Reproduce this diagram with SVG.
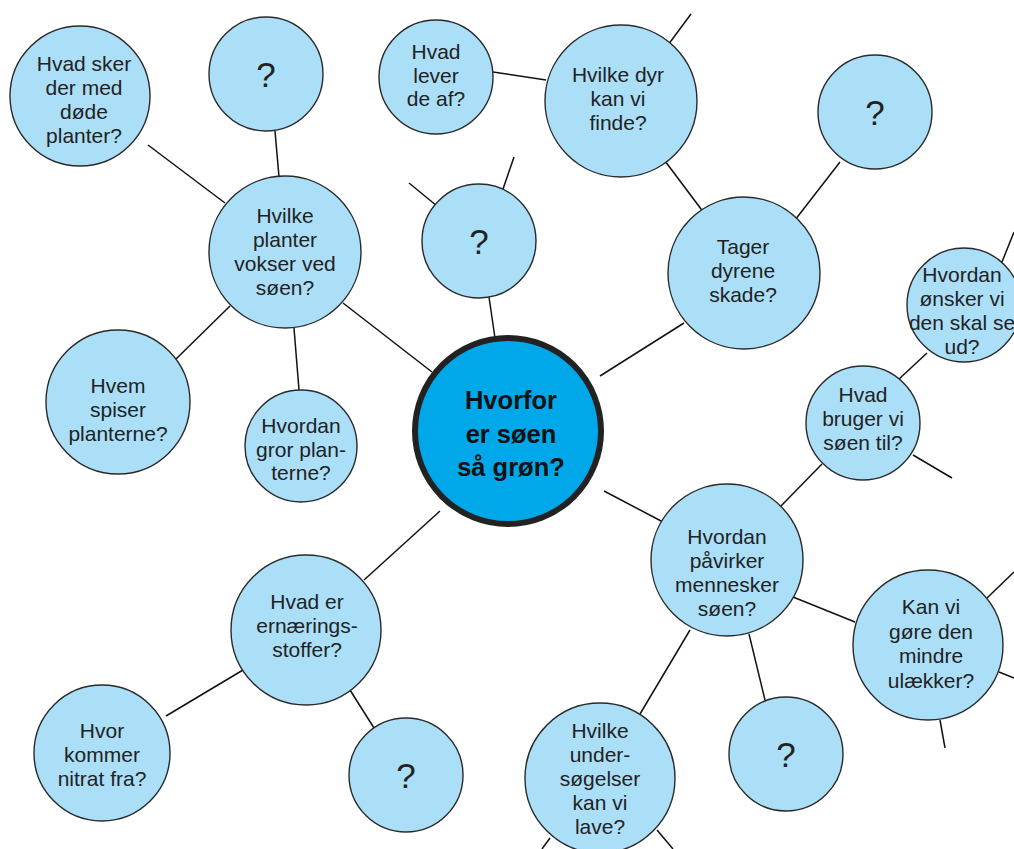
<svg xmlns="http://www.w3.org/2000/svg" width="1014" height="849" viewBox="0 0 1014 849">
<style>
.n{fill:#abdff8;stroke:#2a2a2a;stroke-width:1.4}
.c{fill:#00a8ea;stroke:#222;stroke-width:6}
.t{font-family:"Liberation Sans",Arial,sans-serif;font-size:21px;fill:#222;text-anchor:middle}
.q{font-family:"Liberation Sans",Arial,sans-serif;font-size:35px;fill:#222;text-anchor:middle}
.b{font-family:"Liberation Sans",Arial,sans-serif;font-size:25.5px;font-weight:bold;fill:#111;text-anchor:middle}
.l{stroke:#111;stroke-width:1.5;fill:none}
</style>
<rect width="1014" height="849" fill="#fff"/>
<g id="connectors" class="l">
<line x1="432" y1="372" x2="343" y2="303"/>
<line x1="495" y1="338" x2="489" y2="297"/>
<line x1="600" y1="376" x2="684" y2="323"/>
<line x1="604" y1="491" x2="663" y2="522"/>
<line x1="440" y1="511" x2="364" y2="580"/>
<line x1="148" y1="145" x2="225" y2="203"/>
<line x1="275" y1="131" x2="279" y2="177"/>
<line x1="175" y1="360" x2="230" y2="306"/>
<line x1="294" y1="328" x2="299" y2="390"/>
<line x1="493" y1="72" x2="546" y2="80"/>
<line x1="668" y1="45" x2="691" y2="14"/>
<line x1="665" y1="161" x2="704" y2="213"/>
<line x1="795" y1="220" x2="840" y2="162"/>
<line x1="409" y1="183" x2="437" y2="206"/>
<line x1="514" y1="157" x2="502" y2="192"/>
<line x1="1002" y1="262" x2="1014" y2="232"/>
<line x1="898" y1="380" x2="927" y2="353"/>
<line x1="913" y1="455" x2="952" y2="478"/>
<line x1="779" y1="508" x2="822" y2="464"/>
<line x1="793" y1="597" x2="855" y2="622"/>
<line x1="749" y1="634" x2="765" y2="700"/>
<line x1="690" y1="630" x2="640" y2="714"/>
<line x1="987" y1="598" x2="1014" y2="572"/>
<line x1="999" y1="672" x2="1014" y2="678"/>
<line x1="940" y1="720" x2="945" y2="748"/>
<line x1="550" y1="838" x2="542" y2="849"/>
<line x1="657" y1="830" x2="673" y2="849"/>
<line x1="243" y1="670" x2="166" y2="716"/>
<line x1="350" y1="690" x2="374" y2="728"/>
</g>
<g id="center"><circle class="c" cx="508" cy="431" r="93"/>
<text class="b"><tspan x="511" y="409">Hvorfor</tspan><tspan x="511" y="443">er søen</tspan><tspan x="511" y="476">så grøn?</tspan></text></g>
<g id="n1"><circle class="n" cx="80" cy="96" r="70"/>
<text class="t"><tspan x="84" y="71">Hvad sker</tspan><tspan x="84" y="95">der med</tspan><tspan x="84" y="119">døde</tspan><tspan x="84" y="143">planter?</tspan></text></g>
<g id="n2"><circle class="n" cx="266" cy="74" r="57"/><text class="q" x="266" y="87">?</text></g>
<g id="n3"><circle class="n" cx="285" cy="252" r="76"/>
<text class="t"><tspan x="285" y="223">Hvilke</tspan><tspan x="285" y="247">planter</tspan><tspan x="285" y="271">vokser ved</tspan><tspan x="285" y="295">søen?</tspan></text></g>
<g id="n4"><circle class="n" cx="118" cy="402" r="72"/>
<text class="t"><tspan x="118" y="393">Hvem</tspan><tspan x="118" y="417">spiser</tspan><tspan x="118" y="441">planterne?</tspan></text></g>
<g id="n5"><circle class="n" cx="301" cy="446" r="56"/>
<text class="t"><tspan x="301" y="433">Hvordan</tspan><tspan x="301" y="457">gror plan-</tspan><tspan x="301" y="480">terne?</tspan></text></g>
<g id="n6"><circle class="n" cx="436" cy="77" r="57"/>
<text class="t"><tspan x="436" y="59">Hvad</tspan><tspan x="436" y="83">lever</tspan><tspan x="436" y="106">de af?</tspan></text></g>
<g id="n7"><circle class="n" cx="621" cy="101" r="76"/>
<text class="t"><tspan x="618" y="82">Hvilke dyr</tspan><tspan x="618" y="106">kan vi</tspan><tspan x="618" y="130">finde?</tspan></text></g>
<g id="n8"><circle class="n" cx="875" cy="112" r="57"/><text class="q" x="875" y="125">?</text></g>
<g id="n9"><circle class="n" cx="479" cy="241" r="57"/><text class="q" x="479" y="254">?</text></g>
<g id="n10"><circle class="n" cx="744" cy="273" r="76"/>
<text class="t"><tspan x="743" y="254">Tager</tspan><tspan x="743" y="278">dyrene</tspan><tspan x="743" y="302">skade?</tspan></text></g>
<g id="n11"><circle class="n" cx="964" cy="305" r="57"/>
<text class="t"><tspan x="962" y="282">Hvordan</tspan><tspan x="962" y="306">ønsker vi</tspan><tspan x="962" y="330">den skal se</tspan><tspan x="962" y="354">ud?</tspan></text></g>
<g id="n12"><circle class="n" cx="863" cy="423" r="57"/>
<text class="t"><tspan x="863" y="402">Hvad</tspan><tspan x="863" y="426">bruger vi</tspan><tspan x="863" y="450">søen til?</tspan></text></g>
<g id="n13"><circle class="n" cx="727" cy="560" r="76"/>
<text class="t"><tspan x="727" y="544">Hvordan</tspan><tspan x="727" y="568">påvirker</tspan><tspan x="727" y="592">mennesker</tspan><tspan x="727" y="616">søen?</tspan></text></g>
<g id="n14"><circle class="n" cx="928" cy="645" r="75"/>
<text class="t"><tspan x="931" y="614">Kan vi</tspan><tspan x="931" y="639">gøre den</tspan><tspan x="931" y="663">mindre</tspan><tspan x="931" y="688">ulækker?</tspan></text></g>
<g id="n15"><circle class="n" cx="786" cy="754" r="57"/><text class="q" x="786" y="767">?</text></g>
<g id="n16"><circle class="n" cx="600" cy="778" r="75"/>
<text class="t"><tspan x="600" y="738">Hvilke</tspan><tspan x="600" y="762">under-</tspan><tspan x="600" y="786">søgelser</tspan><tspan x="600" y="810">kan vi</tspan><tspan x="600" y="834">lave?</tspan></text></g>
<g id="n17"><circle class="n" cx="306" cy="630" r="75"/>
<text class="t"><tspan x="307" y="609">Hvad er</tspan><tspan x="307" y="633">ernærings-</tspan><tspan x="307" y="657">stoffer?</tspan></text></g>
<g id="n18"><circle class="n" cx="102" cy="753" r="68"/>
<text class="t"><tspan x="102" y="738">Hvor</tspan><tspan x="102" y="762">kommer</tspan><tspan x="102" y="786">nitrat fra?</tspan></text></g>
<g id="n19"><circle class="n" cx="406" cy="775" r="57"/><text class="q" x="406" y="788">?</text></g>
</svg>
